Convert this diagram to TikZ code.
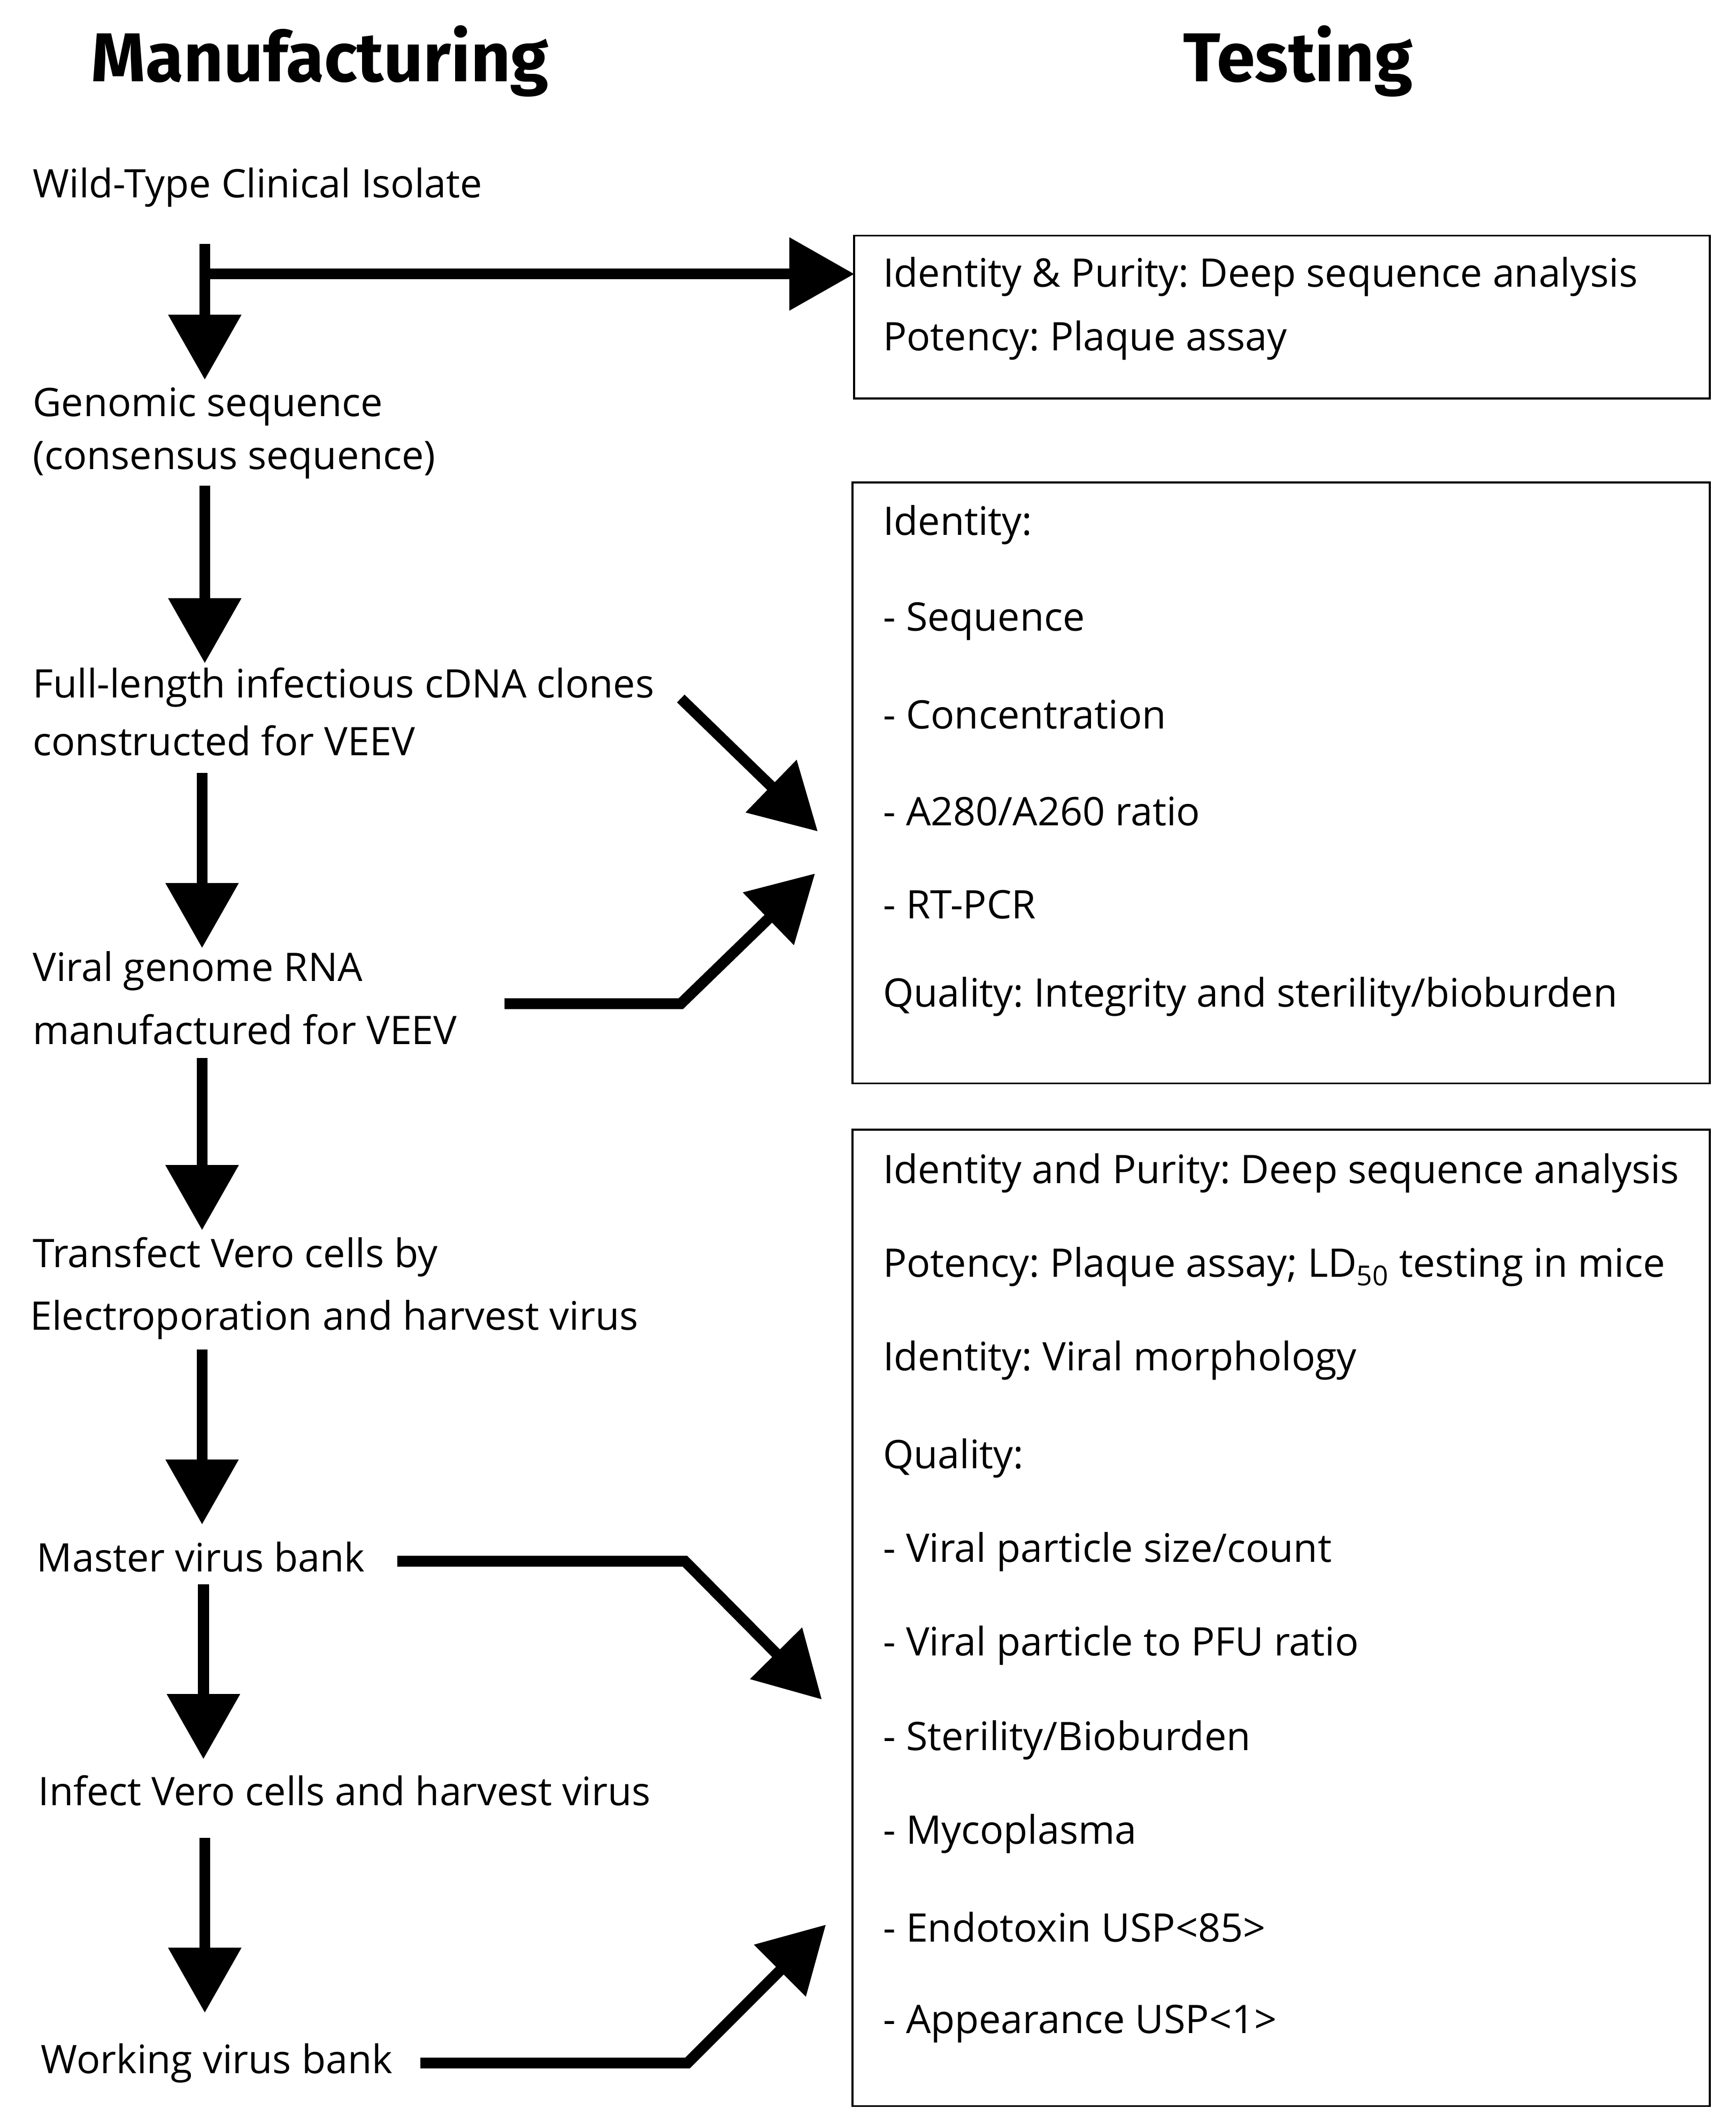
\documentclass[tikz,border=0pt]{standalone}
\usepackage{fontspec}
\setmainfont{Open Sans}
\newfontfamily\titlefont{Fira Sans}
\usetikzlibrary{arrows.meta}
\begin{document}
\frenchspacing
\begin{tikzpicture}[x=1pt,y=-1pt,
  lt/.style={anchor=west,inner sep=0,font=\fontsize{29}{34}\selectfont},
  ttl/.style={font=\titlefont\bfseries\fontsize{51}{58}\selectfont},
  box/.style={draw,line width=1.5pt,anchor=north west,inner sep=0},
  arr/.style={line width=8pt,-{Triangle[length=48pt,width=52pt]}}]
\useasboundingbox (0,0) rectangle (1280,1566);
\node[ttl] (t1) at (236,45) {Manufacturing};
\node[ttl] (t2) at (957,45) {Testing};
% left texts
\node[lt] (s1) at (24,138) {Wild-Type Clinical Isolate};
\node[lt] (s2a) at (24,300) {Genomic sequence};
\node[lt] (s2b) at (24,339) {(consensus sequence)};
\node[lt] (s3a) at (24,507) {Full-length infectious cDNA clones};
\node[lt] (s3b) at (24,546) {constructed for VEEV};
\node[lt] (s4a) at (24,716) {Viral genome RNA};
\node[lt] (s4b) at (24,759) {manufactured for VEEV};
\node[lt] (s5a) at (24,927) {Transfect Vero cells by};
\node[lt] (s5b) at (22,973) {Electroporation and harvest virus};
\node[lt] (s6) at (27,1148) {Master virus bank};
\node[lt] (s7) at (28,1320) {Infect Vero cells and harvest virus};
\node[lt] (s8) at (30,1521) {Working virus bank};
% boxes
\node[box,minimum width=631pt,minimum height=120pt] (b1) at (629,173) {};
\node[box,minimum width=632pt,minimum height=443pt] (b2) at (628,355) {};
\node[box,minimum width=632pt,minimum height=720pt] (b3) at (628,832) {};
\foreach \t/\y [count=\i] in {{Identity \& Purity: Deep sequence analysis}/204,{Potency: Plaque assay}/251}
  \node[lt] (b1t\i) at (651,\y) {\t};
\foreach \t/\y [count=\i] in {{Identity:}/387,{- Sequence}/458,{- Concentration}/527,{- A280/A260 ratio}/598,{- RT-PCR}/667,{Quality: Integrity and sterility/bioburden}/735}
  \node[lt] (b2t\i) at (651,\y) {\t};
\foreach \t/\y [count=\i] in {{Identity and Purity: Deep sequence analysis}/865,{Potency: Plaque assay; LD\textsubscript{50} testing in mice}/934,{Identity: Viral morphology}/1003,{Quality:}/1075,{- Viral particle size/count}/1144,{- Viral particle to PFU ratio}/1213,{- Sterility/Bioburden}/1283,{- Mycoplasma}/1352,{- Endotoxin USP<85>}/1421,{- Appearance USP<1>}/1492}
  \node[lt] (b3t\i) at (651,\y) {\t};
% down arrows
\foreach \a/\b/\x [count=\i] in {180/280/151,358/489/151,570/699/149,780/907/149,995/1124/149,1168/1297/150,1355/1484/151}{
  \coordinate (d\i s) at (\x,\a); \coordinate (d\i e) at (\x,\b);
  \draw[arr] (d\i s) -- (d\i e);}
% side arrows
\coordinate (h1s) at (151,202); \coordinate (h1e) at (630,202);
\draw[arr] (h1s) -- (h1e);
\coordinate (c1s) at (502,515); \coordinate (c1e) at (603,613);
\draw[arr] (c1s) -- (c1e);
\coordinate (c2s) at (372,740); \coordinate (c2m) at (502,740); \coordinate (c2e) at (601,644);
\draw[arr] (c2s) -- (c2m) -- (c2e);
\coordinate (c3s) at (293,1151); \coordinate (c3m) at (505,1151); \coordinate (c3e) at (606,1253);
\draw[arr] (c3s) -- (c3m) -- (c3e);
\coordinate (c4s) at (310,1521); \coordinate (c4m) at (507,1521); \coordinate (c4e) at (609,1419);
\draw[arr] (c4s) -- (c4m) -- (c4e);
\end{tikzpicture}
\end{document}
